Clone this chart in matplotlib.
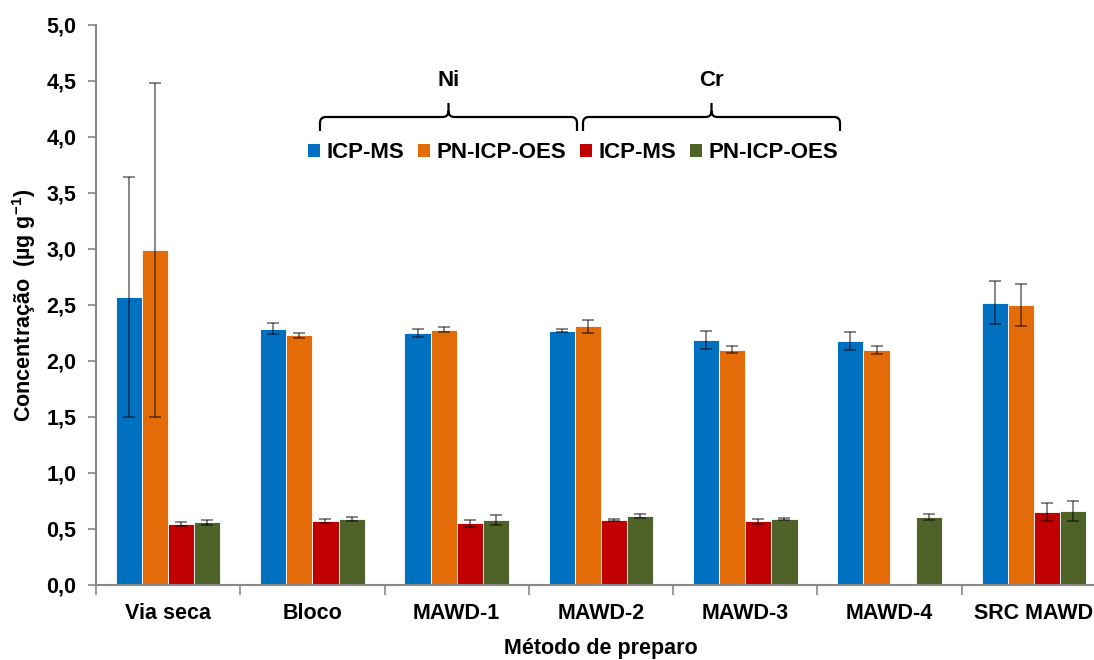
import matplotlib
matplotlib.use("Agg")
import matplotlib.pyplot as plt
import numpy as np
from matplotlib.patches import Patch, PathPatch
from matplotlib.path import Path
from matplotlib.ticker import FuncFormatter, FixedLocator

plt.rcParams['font.family'] = ['Liberation Sans', 'DejaVu Sans']
plt.rcParams['font.weight'] = 'bold'
plt.rcParams['mathtext.fontset'] = 'custom'
plt.rcParams['mathtext.rm'] = 'Liberation Sans'
plt.rcParams['mathtext.bf'] = 'Liberation Sans:bold'

# categories (preparation method)
metodos = ["Via seca", "Bloco", "MAWD-1", "MAWD-2", "MAWD-3", "MAWD-4", "SRC MAWD"]

# Ni
ni_icpms = [2.57, 2.29, 2.25, 2.27, 2.19, 2.18, 2.52]
ni_icpms_err = [1.07, 0.05, 0.04, 0.012, 0.08, 0.08, 0.19]
ni_oes = [2.99, 2.23, 2.28, 2.31, 2.10, 2.10, 2.50]
ni_oes_err = [1.49, 0.022, 0.025, 0.058, 0.03, 0.035, 0.19]

# Cr
cr_icpms = [0.545, 0.57, 0.55, 0.58, 0.57, np.nan, 0.65]
cr_icpms_err = [0.018, 0.015, 0.033, 0.01, 0.022, np.nan, 0.083]
cr_oes = [0.56, 0.59, 0.58, 0.615, 0.59, 0.61, 0.66]
cr_oes_err = [0.02, 0.02, 0.042, 0.02, 0.01, 0.028, 0.09]

series = [ni_icpms, ni_oes, cr_icpms, cr_oes]
errors = [ni_icpms_err, ni_oes_err, cr_icpms_err, cr_oes_err]
colors = ["#0070C0", "#E36C09", "#C00000", "#4F6228"]
labels = ["ICP-MS", "PN-ICP-OES", "ICP-MS", "PN-ICP-OES"]

FS = 15.5

W, H = 1094, 660
fig = plt.figure(figsize=(W / 100, H / 100), dpi=100)
ax = fig.add_axes([96 / W, 1 - 585 / H, 1010 / W, 560 / H])

x = np.arange(len(metodos))
width = 0.181
for i, (vals, errs, c) in enumerate(zip(series, errors, colors)):
    pos = x + (i - 1.5) * width
    ax.bar(pos, vals, width, color=c, edgecolor="white", linewidth=0.6, zorder=2)
    ax.errorbar(pos, vals, yerr=errs, fmt="none", ecolor=(0, 0, 0, 0.55),
                elinewidth=1.2, capsize=4.5, capthick=1.2, zorder=3)

ax.set_xlim(-0.5, len(metodos) - 0.5)
ax.set_ylim(0, 5)
ax.set_yticks(np.arange(0, 5.01, 0.5))
ax.yaxis.set_major_formatter(FuncFormatter(lambda v, p: f"{v:.1f}".replace(".", ",")))

# category labels without ticks, boundary ticks as minor ticks
ax.set_xticks(x)
ax.set_xticklabels(metodos, fontsize=FS, fontweight="bold")
ax.tick_params(axis="x", which="major", length=0, pad=13)
ax.xaxis.set_minor_locator(FixedLocator(np.arange(-0.5, len(metodos), 1.0)))
ax.tick_params(axis="x", which="minor", length=7, color="#888888", width=1.2, direction="out")
ax.tick_params(axis="y", length=6, color="#888888", width=1.2, labelsize=FS, pad=8)
for lab in ax.get_yticklabels():
    lab.set_fontweight("bold")

for s in ["top", "right"]:
    ax.spines[s].set_visible(False)
for s in ["left", "bottom"]:
    ax.spines[s].set_color("#888888")
    ax.spines[s].set_linewidth(1.5)

ax.set_xlabel("Método de preparo", fontsize=FS, fontweight="bold", labelpad=10)
ax.set_ylabel(r"Concentração  (µg g$^{\mathbf{-1}}$)", fontsize=FS, fontweight="bold", labelpad=6)

# legend
handles = [Patch(facecolor=c, edgecolor="none") for c in colors]
fig.legend(handles, labels, ncol=4, loc="center",
           bbox_to_anchor=(573 / W, 1 - 153 / H), frameon=False,
           handlelength=0.55, handleheight=0.55, handletextpad=0.3,
           columnspacing=0.6, prop={"size": 16, "weight": "bold"})


# braces above the legend (figure pixel coords, y down)
def brace(x0, x1, yb=117, ytop=103, yend=131, r=6):
    xm = (x0 + x1) / 2
    pts = [(x0, yend), (x0, yb + r), (x0, yb), (x0 + r, yb), (xm - r, yb), (xm, yb), (xm, yb - r), (xm, ytop),
           (xm, yb - r), (xm, yb), (xm + r, yb), (x1 - r, yb), (x1, yb), (x1, yb + r), (x1, yend)]
    codes = [Path.MOVETO, Path.LINETO, Path.CURVE3, Path.CURVE3, Path.LINETO, Path.CURVE3, Path.CURVE3, Path.LINETO,
             Path.MOVETO, Path.CURVE3, Path.CURVE3, Path.LINETO, Path.CURVE3, Path.CURVE3, Path.LINETO]
    pts = [(px / W, 1 - py / H) for px, py in pts]
    fig.add_artist(PathPatch(Path(pts, codes), facecolor="none", edgecolor="black",
                             linewidth=1.6, transform=fig.transFigure))
    return xm


xm_ni = brace(320, 577)
xm_cr = brace(583, 840)
fig.text(xm_ni / W, 1 - 80 / H, "Ni", ha="center", va="center", fontsize=FS + 0.5, fontweight="bold")
fig.text(xm_cr / W, 1 - 80 / H, "Cr", ha="center", va="center", fontsize=FS + 0.5, fontweight="bold")

fig.savefig("out.png", dpi=100)
